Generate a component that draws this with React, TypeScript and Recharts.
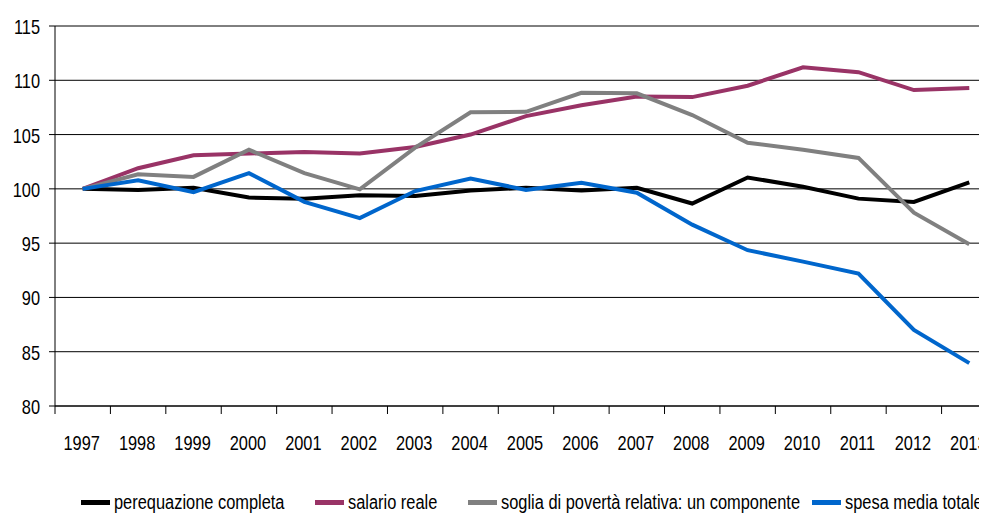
import React from 'react';
import { LineChart, Line, XAxis, YAxis, CartesianGrid, Legend } from 'recharts';

const years = ['1997', '1998', '1999', '2000', '2001', '2002', '2003', '2004', '2005', '2006', '2007', '2008', '2009', '2010', '2011', '2012', '2013'];

const perequazione = [100, 99.9, 100.1, 99.2, 99.1, 99.4, 99.35, 99.85, 100.1, 99.85, 100.1, 98.65, 101.05, 100.2, 99.1, 98.8, 100.6];
const salario = [100, 101.9, 103.1, 103.25, 103.4, 103.25, 103.85, 105.0, 106.7, 107.7, 108.5, 108.45, 109.5, 111.2, 110.75, 109.1, 109.3];
const soglia = [100, 101.35, 101.1, 103.6, 101.45, 99.95, 103.8, 107.05, 107.1, 108.85, 108.8, 106.8, 104.25, 103.6, 102.85, 97.8, 94.9];
const spesa = [100, 100.8, 99.7, 101.45, 98.8, 97.3, 99.8, 100.95, 99.9, 100.55, 99.65, 96.7, 94.35, 93.3, 92.2, 87.0, 83.95];

const yTicks = [80, 85, 90, 95, 100, 105, 110, 115];

const series = [
  { key: 'perequazione', name: 'perequazione completa', color: '#000000' },
  { key: 'salario', name: 'salario reale', color: '#993366' },
  { key: 'soglia', name: 'soglia di povertà relativa: un componente', color: '#808080' },
  { key: 'spesa', name: 'spesa media totale', color: '#0066CC' },
];

const data = years.map((year, i) => ({
  year,
  perequazione: perequazione[i],
  salario: salario[i],
  soglia: soglia[i],
  spesa: spesa[i],
}));

// no narrow font installed, so Arial-metric text gets squeezed horizontally
const FONT = '"Liberation Sans", Arial, sans-serif';
const NARROW = 0.82;

const CHART_W = 1000;
const MARGIN = { top: 18, right: 11, left: 0, bottom: 0 };
const Y_AXIS_W = 47;
const HALF_BAND = (CHART_W - MARGIN.left - MARGIN.right - Y_AXIS_W) / years.length / 2;

// where each legend entry starts, px from the chart's left edge
const LEGEND_LEFT = [73, 307, 460, 804];

// x ticks: label in the middle of the band, tick mark on the band's left edge
const YearTick = ({ x, y, payload }: any) => (
  <g>
    <line x1={x - HALF_BAND} x2={x - HALF_BAND} y1={y - 8} y2={y} stroke="#000" strokeWidth={1} />
    <text
      transform={`translate(${x - 1},${y + 36}) scale(${NARROW},1)`}
      textAnchor="middle"
      fill="#000"
      fontSize={20}
      fontFamily={FONT}
    >
      {payload.value}
    </text>
  </g>
);

const ValueTick = ({ x, y, payload }: any) => (
  <text
    transform={`translate(${x},${y + 8}) scale(${NARROW},1)`}
    textAnchor="end"
    fill="#000"
    fontSize={20}
    fontFamily={FONT}
  >
    {payload.value}
  </text>
);

const CustomLegend = () => (
  <div
    style={{
      position: 'relative',
      top: 2,
      height: 26,
      fontFamily: FONT,
      fontSize: 20,
      lineHeight: '26px',
      color: '#000',
      whiteSpace: 'nowrap',
    }}
  >
    {series.map((s, i) => (
      <div
        key={s.key}
        style={{ position: 'absolute', left: LEGEND_LEFT[i], top: 0, height: 26, display: 'flex', alignItems: 'center' }}
      >
        <div style={{ width: 29, height: 5, backgroundColor: s.color, marginRight: 4, flexShrink: 0 }} />
        <span style={{ display: 'inline-block', transform: `scaleX(${NARROW})`, transformOrigin: 'left center' }}>
          {s.name}
        </span>
      </div>
    ))}
  </div>
);

const App: React.FC = () => {
  return (
    <div style={{ width: 979, overflow: 'hidden' }}>
      <LineChart width={CHART_W} height={505} data={data} margin={MARGIN}>
        <CartesianGrid vertical={false} stroke="#000" strokeWidth={1} />
        <XAxis
          dataKey="year"
          interval={0}
          height={81}
          padding={{ left: HALF_BAND, right: HALF_BAND }}
          axisLine={{ stroke: '#000' }}
          tickLine={false}
          tickSize={8}
          tickMargin={0}
          tick={<YearTick />}
        />
        <YAxis
          domain={[80, 115]}
          ticks={yTicks}
          width={Y_AXIS_W}
          axisLine={{ stroke: '#000' }}
          tickLine={{ stroke: '#000' }}
          tickSize={6}
          tickMargin={9}
          tick={<ValueTick />}
        />
        <Legend
          verticalAlign="bottom"
          content={<CustomLegend />}
          wrapperStyle={{ left: 0, width: 1000, overflow: 'visible' }}
        />
        {series.map((s) => (
          <Line
            key={s.key}
            type="linear"
            dataKey={s.key}
            name={s.name}
            stroke={s.color}
            strokeWidth={4}
            dot={false}
            isAnimationActive={false}
          />
        ))}
      </LineChart>
    </div>
  );
};

export default App;
